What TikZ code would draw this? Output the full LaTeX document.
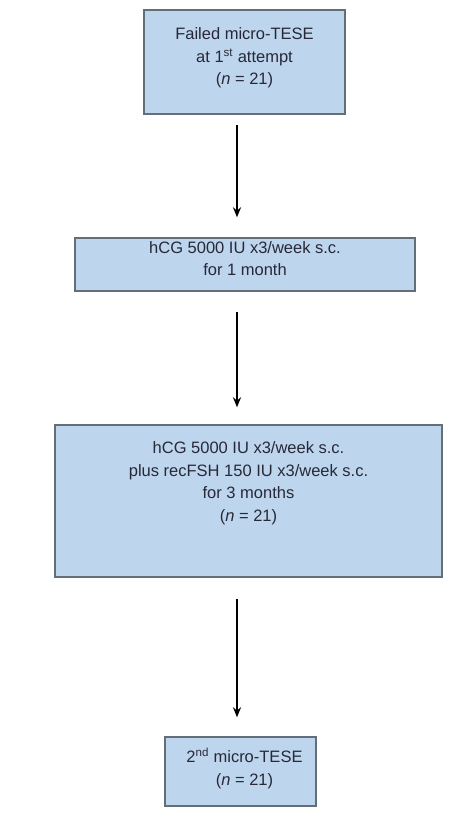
\documentclass[tikz,border=0pt]{standalone}
\usepackage{fontspec}
\setmainfont{Liberation Sans}
\usetikzlibrary{arrows.meta}
\definecolor{boxfill}{RGB}{189,214,238}
\definecolor{boxline}{RGB}{100,110,120}
\definecolor{txtcol}{RGB}{40,40,55}

\begin{document}
\begin{tikzpicture}[x=1pt,y=-1pt,
    box/.style={draw=boxline,fill=boxfill,line width=1.4pt,inner sep=0pt},
    txt/.style={align=center,text=txtcol,font=\fontsize{16.5}{22.5}\selectfont},
    flow/.style={-{Stealth[length=10pt,width=8pt]},line width=2pt}]
\useasboundingbox (0,0) rectangle (455,820);
\coordinate (axis) at (237,0);
% boxes
      \node[box,minimum width=201pt,minimum height=104pt] (fail) at (244.5,62) {};
      \node[txt] (failtext) at ([yshift=4pt]fail.center) {Failed micro-TESE\\at 1\textsuperscript{st} attempt\\(\textit{n} = 21)};
      \node[box,minimum width=340pt,minimum height=53pt] (hcg) at (245,264.5) {};
      \node[txt] (hcgtext) at ([yshift=6pt]hcg.center) {hCG 5000 IU x3/week s.c.\\for 1 month};
      \node[box,minimum width=387pt,minimum height=152pt] (combo) at (248.5,501) {};
      \node[txt] (combotext) at ([yshift=18pt]combo.center) {hCG 5000 IU x3/week s.c.\\plus recFSH 150 IU x3/week s.c.\\for 3 months\\(\textit{n} = 21)};
      \node[box,minimum width=151pt,minimum height=69pt] (second) at (240.5,771.5) {};
      \node[txt] (secondtext) at ([xshift=4pt,yshift=3pt]second.center) {2\textsuperscript{nd} micro-TESE\\(\textit{n} = 21)};
% arrows
      \draw[flow,shorten <=10pt,shorten >=20pt] (axis |- fail.south) -- (axis |- hcg.north);
      \draw[flow,shorten <=20pt,shorten >=17pt] (axis |- hcg.south) -- (axis |- combo.north);
      \draw[flow,shorten <=21pt,shorten >=19pt] (axis |- combo.south) -- (axis |- second.north);
\end{tikzpicture}
\end{document}
